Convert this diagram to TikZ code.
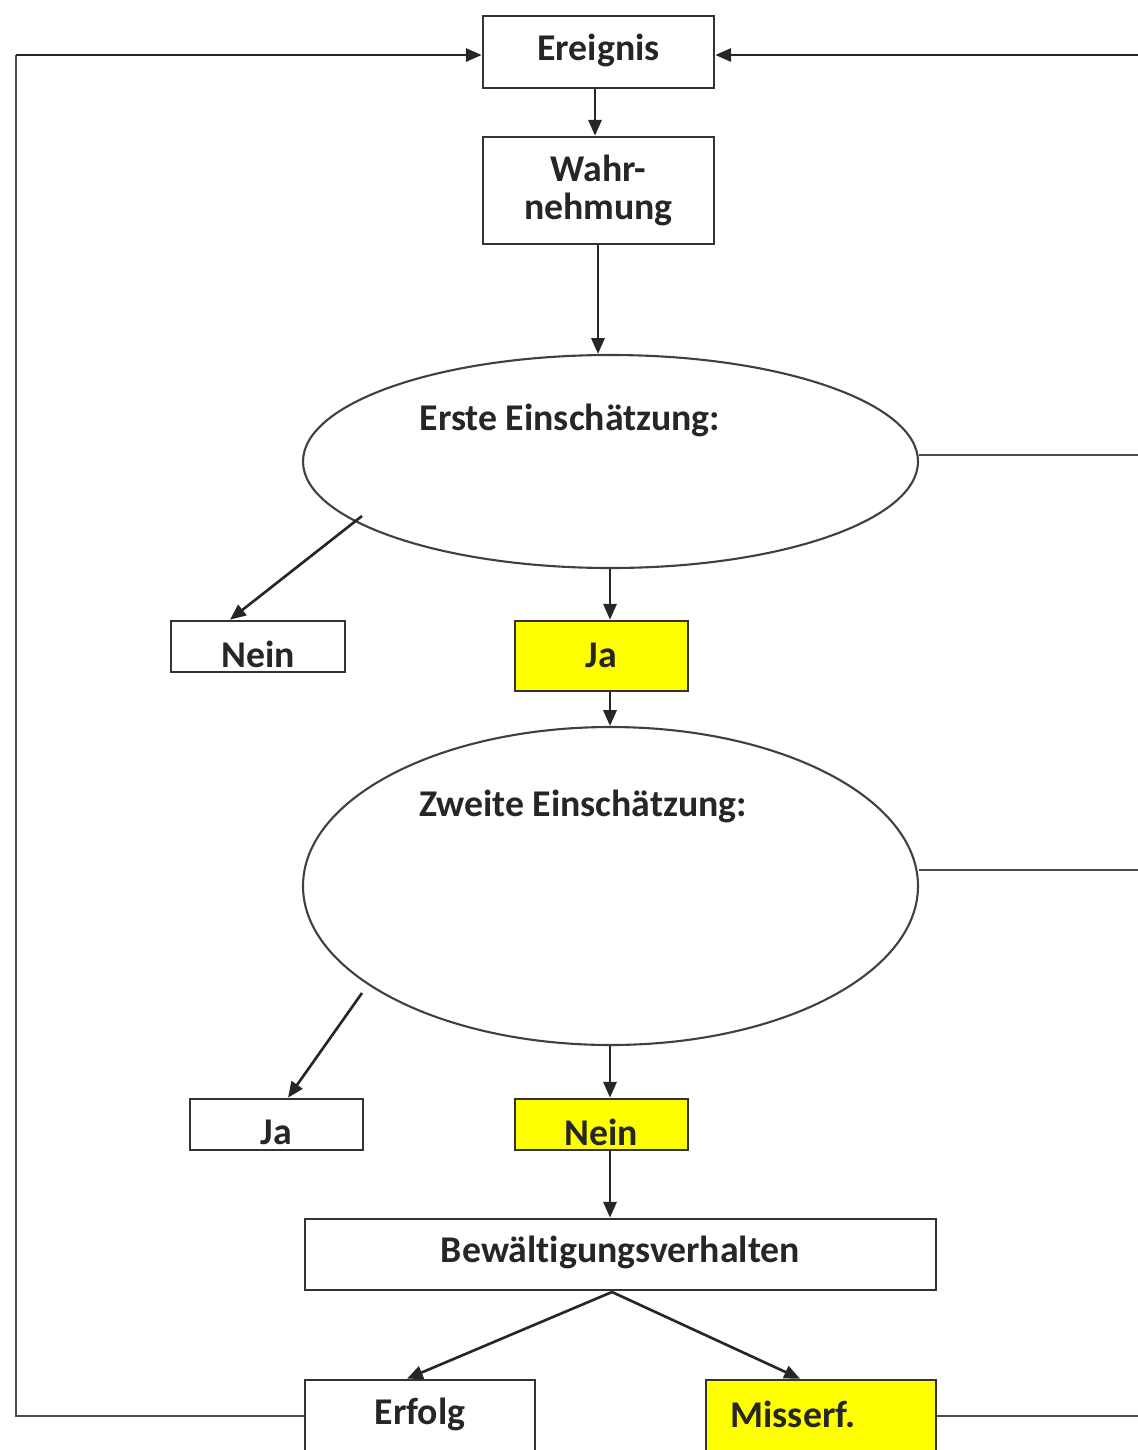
\documentclass[tikz,border=0pt]{standalone}
\usepackage{fontspec}
\setmainfont[Ligatures={NoCommon}]{Carlito}
\usetikzlibrary{arrows.meta,shapes.geometric}
\definecolor{hilite}{RGB}{255,255,0}
\begin{document}
\begin{tikzpicture}[x=0.02cm,y=-0.02cm,
  every node/.style={font=\bfseries\fontsize{21.5}{25}\selectfont, text=black!85},
  box/.style={draw=black!80, line width=1.5pt, rectangle, inner sep=0pt},
  hl/.style={box, fill=hilite},
  oval/.style={draw=black!75, line width=1.2pt, ellipse, inner sep=0pt},
  conn/.style={draw=black!85, line width=1.5pt, -{Triangle[length=9pt,width=7.5pt]}},
  link/.style={draw=black!70, line width=1.6pt}]
\useasboundingbox (0,0) rectangle (1138,1450);

% boxes
\node[box, minimum width=231*0.02cm, minimum height=72*0.02cm] (ereignis) at (598.5,52) {};
\node at (598.5,50) {Ereignis};
\node[box, minimum width=231*0.02cm, minimum height=107*0.02cm, align=center] (wahr) at (598.5,190.5) {Wahr-\\[-3pt]nehmung};

% first appraisal
\node[oval, minimum width=615*0.02cm, minimum height=213*0.02cm] (e1) at (610.5,461.5) {};
\node at (570,420) {Erste Einschätzung:};

\node[box, minimum width=174*0.02cm, minimum height=51*0.02cm] (nein1) at (258,646.5) {};
\node at (258,654) {Nein};
\node[hl, minimum width=173*0.02cm, minimum height=70*0.02cm] (ja1) at (601.5,656) {};
\node at (601.5,655) {Ja};

% second appraisal
\node[oval, minimum width=615*0.02cm, minimum height=318*0.02cm] (e2) at (610.5,886) {};
\node at (583,806) {Zweite Einschätzung:};

\node[box, minimum width=173*0.02cm, minimum height=51*0.02cm] (ja2) at (276.5,1124.5) {};
\node at (276.5,1132) {Ja};
\node[hl, minimum width=173*0.02cm, minimum height=51*0.02cm] (nein2) at (601.5,1124.5) {};
\node at (601.5,1132) {Nein};

% coping
\node[box, minimum width=631*0.02cm, minimum height=71*0.02cm] (coping) at (620.5,1254.5) {};
\node at (620.5,1252) {Bewältigungsverhalten};

\node[box, minimum width=230*0.02cm, minimum height=72*0.02cm] (erfolg) at (420,1416) {};
\node at (420,1414) {Erfolg};
\node[hl, minimum width=230*0.02cm, minimum height=72*0.02cm] (miss) at (821,1416) {};
\node at (793,1414) {Misserf.};

% free ends of the feedback loops
\coordinate (tl) at (16,55);
\coordinate (bl) at (16,1416);
\coordinate (rTop) at (1140,55);
\coordinate (rE1) at (1140,455);
\coordinate (rE2) at (1140,870);
\coordinate (rBot) at (1140,1416);
\coordinate (e1sw) at (362,516);
\coordinate (e2sw) at (362,993);
\coordinate (split) at (612,1292);

% main flow
\draw[conn] (ereignis.south -| 595,0) -- (wahr.north -| 595,0);
\draw[conn] (wahr.south -| 598,0) -- (e1.north -| 598,0);
\draw[conn] (e1.south -| 610,0) -- (ja1.north -| 610,0);
\draw[conn] (ja1.south -| 610,0) -- (e2.north -| 610,0);
\draw[conn] (e2.south -| 610,0) -- (nein2.north -| 610,0);
\draw[conn] (nein2.south -| 610,0) -- (coping.north -| 610,0);
\draw[conn] (e1sw) -- (nein1.north -| 230,0);
\draw[conn] (e2sw) -- (ja2.north -| 288,0);
\draw[conn] (split) -- (erfolg.north -| 407,0);
\draw[conn] (split) -- (miss.north -| 800,0);

% feedback loops
\draw[link] (erfolg.west) -- (bl) -- (tl);
\draw[conn] (tl) -- (ereignis.west |- tl);
\draw[conn] (rTop) -- (ereignis.east |- rTop);
\draw[link] (e1.east |- rE1) -- (rE1);
\draw[link] (e2.east |- rE2) -- (rE2);
\draw[link] (miss.east) -- (rBot);
\end{tikzpicture}
\end{document}
